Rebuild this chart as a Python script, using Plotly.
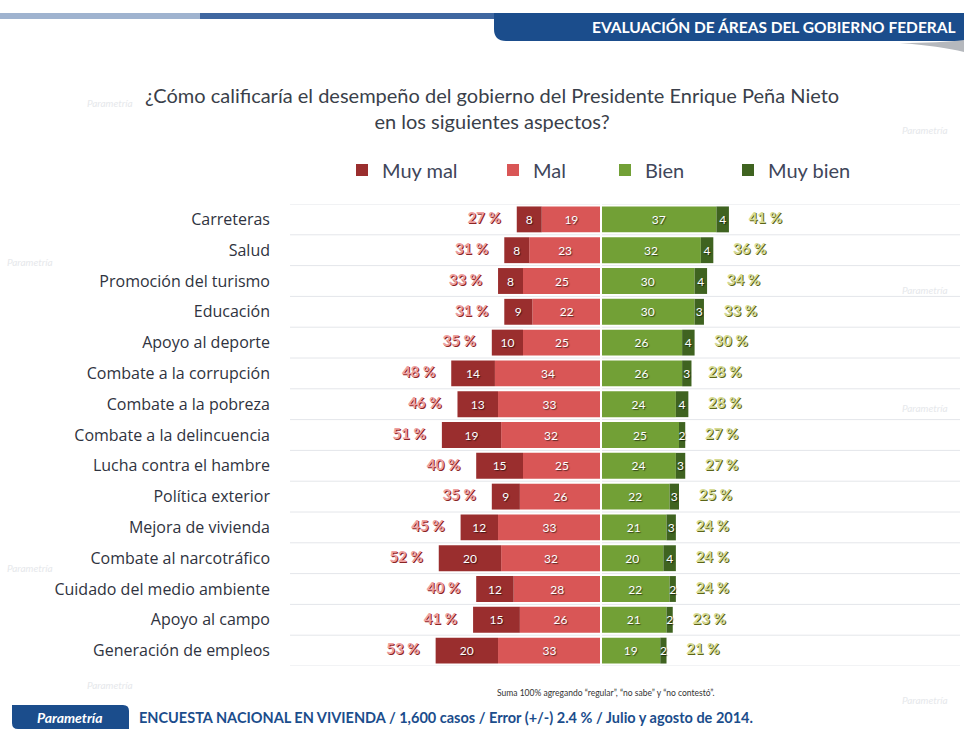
import plotly.graph_objects as go

categories = ["Carreteras", "Salud", "Promoción del turismo", "Educación",
              "Apoyo al deporte", "Combate a la corrupción", "Combate a la pobreza",
              "Combate a la delincuencia", "Lucha contra el hambre", "Política exterior",
              "Mejora de vivienda", "Combate al narcotráfico", "Cuidado del medio ambiente",
              "Apoyo al campo", "Generación de empleos"]
muy_mal = [8, 8, 8, 9, 10, 14, 13, 19, 15, 9, 12, 20, 12, 15, 20]
mal = [19, 23, 25, 22, 25, 34, 33, 32, 25, 26, 33, 32, 28, 26, 33]
bien = [37, 32, 30, 30, 26, 26, 24, 25, 24, 22, 21, 20, 22, 21, 19]
muy_bien = [4, 4, 4, 3, 4, 3, 4, 2, 3, 3, 3, 4, 2, 2, 2]
total_neg = [27, 31, 33, 31, 35, 48, 46, 51, 40, 35, 45, 52, 40, 41, 53]
total_pos = [41, 36, 34, 33, 30, 28, 28, 27, 27, 25, 24, 24, 24, 23, 21]

title_text = ("¿Cómo calificaría el desempeño del gobierno del Presidente Enrique Peña Nieto"
              "<br>en los siguientes aspectos?")
header_text = "EVALUACIÓN DE ÁREAS DEL GOBIERNO FEDERAL"
footer_text = "ENCUESTA NACIONAL EN VIVIENDA / 1,600 casos / Error (+/-) 2.4 % / Julio y agosto de 2014."
note_text = "Suma 100% agregando “regular”, “no sabe” y “no contestó”."
brand_text = "Parametría"
watermark_text = "Parametría"

W, H = 964, 732
L, R, T, B = 290, 4, 204, 66
PW, PH = W - L - R, H - T - B
FONT = "Lato, 'Open Sans', sans-serif"
FONT2 = "'Open Sans', Lato, sans-serif"

C_MUYMAL = "#9a2e2e"
C_MAL = "#d95656"
C_BIEN = "#72a036"
C_MUYBIEN = "#3f6320"
BLUE = "#1b4d8c"


def ppx(px):
    return (px - L) / PW


def ppy(py):
    return (H - B - py) / PH


fig = go.Figure()

bar_text_font = dict(family=FONT, size=12, color="white",
                     shadow="1px 1px 1px rgba(0,0,0,0.55)")

common = dict(y=categories, orientation="h", textposition="inside",
              insidetextanchor="middle", constraintext="none", textangle=0,
              insidetextfont=bar_text_font, hoverinfo="skip")

fig.add_trace(go.Bar(x=[-v for v in mal], text=[str(v) for v in mal], name="Mal",
                     marker=dict(color=C_MAL, line=dict(width=0)), legend="legend2", **common))
fig.add_trace(go.Bar(x=[-v for v in muy_mal], text=[str(v) for v in muy_mal], name="Muy mal",
                     marker=dict(color=C_MUYMAL, line=dict(width=0)), legend="legend", **common))
fig.add_trace(go.Bar(x=bien, text=[str(v) for v in bien], name="Bien",
                     marker=dict(color=C_BIEN, line=dict(width=0)), legend="legend3", **common))
fig.add_trace(go.Bar(x=muy_bien, text=[str(v) for v in muy_bien], name="Muy bien",
                     marker=dict(color=C_MUYBIEN, line=dict(width=0)), legend="legend4", **common))

fig.add_trace(go.Scatter(x=[-v for v in total_neg], y=categories, mode="markers+text",
                         text=[f"{v} %" for v in total_neg], textposition="middle left",
                         marker=dict(size=24, opacity=0),
                         textfont=dict(family=FONT, size=15, weight="bold", color="#eea0a0",
                                       shadow="1px 1px 0px #8a2424"),
                         showlegend=False, hoverinfo="skip", cliponaxis=False))
fig.add_trace(go.Scatter(x=total_pos, y=categories, mode="markers+text",
                         text=[f"{v} %" for v in total_pos], textposition="middle right",
                         marker=dict(size=30, opacity=0),
                         textfont=dict(family=FONT, size=15, weight="bold", color="#d6db94",
                                       shadow="1px 1px 0px #5b6518"),
                         showlegend=False, hoverinfo="skip", cliponaxis=False))

shapes = []
for i in range(len(categories) + 1):
    shapes.append(dict(type="line", xref="paper", x0=0, x1=1, yref="y",
                       y0=i - 0.5, y1=i - 0.5, line=dict(color="#e4e6ea", width=1),
                       layer="below"))
shapes.append(dict(type="line", xref="x", x0=0, x1=0, yref="paper", y0=0, y1=1,
                   line=dict(color="white", width=2), layer="above"))
tab = (f"M {ppx(494)},{ppy(13)} L {ppx(964)},{ppy(13)} L {ppx(964)},{ppy(41)} "
       f"L {ppx(506)},{ppy(41)} Q {ppx(494)},{ppy(41)} {ppx(494)},{ppy(29)} Z")
shapes.append(dict(type="path", xref="paper", yref="paper", path=tab,
                   fillcolor=BLUE, line=dict(width=0), layer="below"))
shapes.append(dict(type="rect", xref="paper", yref="paper", x0=ppx(0), x1=ppx(200),
                   y0=ppy(19), y1=ppy(13), fillcolor="#9fb3cf", line=dict(width=0), layer="below"))
shapes.append(dict(type="rect", xref="paper", yref="paper", x0=ppx(200), x1=ppx(494),
                   y0=ppy(19), y1=ppy(13), fillcolor="#3f67a0", line=dict(width=0), layer="below"))
shapes.append(dict(type="path", xref="paper", yref="paper",
                   path=(f"M {ppx(900)},{ppy(43)} Q {ppx(940)},{ppy(43)} {ppx(964)},{ppy(40)} "
                         f"L {ppx(964)},{ppy(52)} Q {ppx(940)},{ppy(46)} {ppx(900)},{ppy(43)} Z"),
                   fillcolor="#b5b8bd", line=dict(width=0), layer="below"))
logo = (f"M {ppx(12)},{ppy(705)} L {ppx(123)},{ppy(705)} Q {ppx(129)},{ppy(705)} {ppx(129)},{ppy(711)} "
        f"L {ppx(129)},{ppy(729)} L {ppx(18)},{ppy(729)} Q {ppx(12)},{ppy(729)} {ppx(12)},{ppy(723)} Z")
shapes.append(dict(type="path", xref="paper", yref="paper", path=logo,
                   fillcolor=BLUE, line=dict(width=0), layer="below"))

annotations = [
    dict(text=title_text, x=ppx(492), y=ppy(108), xref="paper", yref="paper",
         showarrow=False, xanchor="center", yanchor="middle",
         font=dict(family=FONT, size=20, color="#3a3f4a"), align="center"),
    dict(text=header_text, x=ppx(958), y=ppy(27), xref="paper", yref="paper",
         showarrow=False, xanchor="right", yanchor="middle",
         font=dict(family=FONT, size=15.5, weight="bold", color="white")),
    dict(text=footer_text, x=ppx(137), y=ppy(717), xref="paper", yref="paper",
         showarrow=False, xanchor="left", yanchor="middle",
         font=dict(family=FONT, size=14.5, weight="bold", color=BLUE)),
    dict(text=note_text, x=ppx(606), y=ppy(693), xref="paper", yref="paper",
         showarrow=False, xanchor="center", yanchor="middle",
         font=dict(family=FONT, size=8.5, color="#333333")),
    dict(text=brand_text, x=ppx(70), y=ppy(717), xref="paper", yref="paper",
         showarrow=False, xanchor="center", yanchor="middle",
         font=dict(family=FONT, size=14, weight="bold", style="italic", color="white")),
]
for (wx, wy) in [(110, 103), (925, 130), (30, 262), (925, 408), (110, 685),
                 (925, 700), (30, 568), (925, 290)]:
    annotations.append(dict(text=watermark_text, x=ppx(wx), y=ppy(wy), xref="paper", yref="paper",
                            showarrow=False, xanchor="center", yanchor="middle",
                            font=dict(family=FONT, size=10, style="italic", color="#e6e8eb")))

fig.update_layout(
    width=W, height=H,
    margin=dict(l=L, r=R, t=T, b=B, autoexpand=False),
    paper_bgcolor="white", plot_bgcolor="rgba(0,0,0,0)",
    barmode="relative", bargap=0.16,
    font=dict(family=FONT, color="#3a3f4a"),
    xaxis=dict(range=[-(601 - L) / 3.12, (W - R - 601) / 3.12], visible=False, fixedrange=True),
    yaxis=dict(categoryorder="array", categoryarray=categories, range=[len(categories) - 0.5, -0.5],
               showgrid=False, zeroline=False, showline=False, ticks="", fixedrange=True,
               ticklabelstandoff=19, tickfont=dict(family=FONT2, size=16, color="#2f3340")),
    shapes=shapes,
    annotations=annotations,
    showlegend=True,
)

leg_font = dict(family=FONT, size=20, color="#40465a")
leg_x = {"legend": 382, "legend2": 533, "legend3": 645, "legend4": 768}
for key, tx in leg_x.items():
    fig.update_layout({key: dict(x=(tx - 40) / W, y=1 - 170 / H, xref="container", yref="container",
                                 xanchor="left", yanchor="middle", orientation="h",
                                 bgcolor="rgba(0,0,0,0)", font=leg_font,
                                 itemclick=False, itemdoubleclick=False)})

fig.write_html("out.html", config={"displayModeBar": False},
               post_script="document.body.style.margin='0px';")
